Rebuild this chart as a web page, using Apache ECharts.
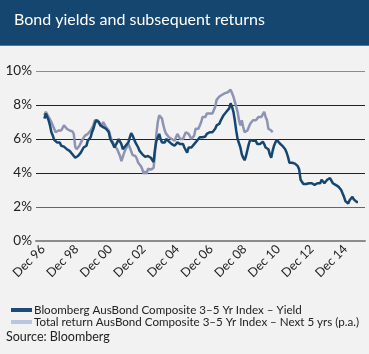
<!DOCTYPE html>
<html>
<head>
<meta charset="utf-8">
<script src="https://cdn.jsdelivr.net/npm/echarts@6/dist/echarts.min.js"></script>
<style>
  html, body { margin: 0; padding: 0; background: #f2f2f2; }
  #chart { width: 369px; height: 354px; }
</style>
</head>
<body>
<div id="chart"></div>
<script>
  // monthly values, first point = Jan 1997
  const yieldVals = [
    7.2, 7.5, 7.4, 7.1, 6.8, 6.4, 6.2, 5.95, 6.0, 5.8, 5.75, 5.8,
    5.6, 5.7, 5.55, 5.6, 5.4, 5.5, 5.3, 5.4, 5.1, 5.2, 4.9, 4.8,
    5.0, 4.9, 5.2, 5.3, 5.5, 5.6, 5.6, 5.9, 5.8, 6.1, 6.4, 6.6,
    6.9, 7.1, 7.2, 7.0, 6.8, 6.9, 6.7, 6.8, 6.6, 6.7, 6.4, 6.0,
    5.9, 5.7, 5.5, 5.6, 5.8, 6.0, 5.9, 5.7, 5.4, 5.5, 5.6, 5.7,
    5.8, 6.1, 6.35, 6.2, 6.0, 5.8, 5.7, 5.5, 5.3, 5.2, 5.1, 5.0,
    4.95, 4.9, 5.0, 5.05, 4.9, 4.8, 4.65, 5.4, 5.9, 6.0, 6.3, 6.0,
    5.8, 5.9, 5.8, 6.0, 5.9, 5.85, 5.8, 5.7, 5.75, 5.6, 5.7, 5.8,
    5.9, 5.7, 5.6, 5.7, 5.5, 5.35, 5.2, 5.5, 5.6, 5.5, 5.55, 5.7,
    5.75, 5.9, 6.0, 6.1, 6.05, 6.1, 6.2, 6.15, 6.3, 6.3, 6.4, 6.5,
    6.4, 6.5, 6.6, 6.8, 6.9, 6.9, 7.1, 7.2, 7.4, 7.5, 7.6, 7.7,
    7.8, 8.1, 7.9, 7.6, 7.1, 6.5, 6.0, 5.9, 5.5, 5.1, 4.9, 4.75,
    5.0, 5.35, 5.7, 5.95, 6.0, 5.9, 5.85, 5.9, 5.7, 5.65, 5.7, 5.8,
    5.85, 5.7, 5.5, 5.45, 5.4, 5.1, 4.9, 5.3, 5.6, 5.8, 5.95, 5.85,
    5.75, 5.7, 5.6, 5.55, 5.4, 5.2, 4.95, 4.6, 4.7, 4.6, 4.5, 4.55,
    4.6, 4.4, 4.2, 3.6, 3.5, 3.35, 3.3, 3.35, 3.3, 3.4, 3.35, 3.4,
    3.4, 3.3, 3.2, 3.4, 3.5, 3.4, 3.6, 3.55, 3.4, 3.5, 3.6, 3.55,
    3.7, 3.6, 3.4, 3.45, 3.3, 3.3, 3.2, 3.2, 3.0, 2.8, 2.6, 2.35,
    2.3, 2.2, 2.4, 2.5, 2.6, 2.45, 2.35, 2.3, 2.3
  ];
  const returnVals = [
    7.4, 7.6, 7.5, 7.3, 7.2, 7.0, 6.8, 6.6, 6.4, 6.5, 6.5, 6.55,
    6.5, 6.6, 6.8, 6.7, 6.6, 6.7, 6.5, 6.5, 6.45, 6.3, 5.55, 5.4,
    5.3, 5.6, 5.7, 5.95, 6.0, 6.2, 6.3, 6.3, 6.4, 6.5, 6.6, 6.8,
    7.1, 7.2, 7.1, 6.9, 6.9, 6.8, 7.0, 6.85, 6.7, 6.7, 6.5, 6.2,
    5.95, 5.8, 5.6, 5.55, 5.4, 5.35, 5.0, 4.7, 4.95, 5.2, 5.4, 5.55,
    5.7, 5.5, 5.4, 5.05, 5.1, 5.0, 4.85, 4.6, 4.5, 4.4, 4.2, 3.95,
    4.1, 3.95, 4.25, 4.3, 4.2, 4.2, 4.3, 5.2, 6.3, 7.0, 7.4, 7.5,
    7.2, 6.8, 6.5, 6.3, 6.2, 6.1, 6.1, 6.0, 6.0, 5.9, 6.1, 6.3,
    6.2, 6.0, 6.1, 6.0, 6.2, 6.4, 6.3, 6.3, 6.2, 6.0, 6.1, 6.2,
    6.6, 6.5, 6.6, 6.8, 7.0, 7.3, 7.4, 7.3, 7.5, 7.6, 7.5, 7.4,
    7.5, 7.6, 7.9, 8.3, 8.4, 8.5, 8.6, 8.6, 8.5, 8.7, 8.7, 8.75,
    8.8, 8.9, 8.7, 8.5, 8.2, 7.9, 7.6, 7.1, 6.8, 7.1, 6.7, 6.4,
    6.3, 6.5, 6.6, 6.9, 7.0, 7.1, 7.0, 7.1, 7.2, 7.3, 7.2, 7.3,
    7.4, 7.6, 7.3, 7.1, 6.6, 6.6, 6.5, 6.4
  ];
  const tickLabels = ['Dec 96', 'Dec 98', 'Dec 00', 'Dec 02', 'Dec 04',
    'Dec 06', 'Dec 08', 'Dec 10', 'Dec 12', 'Dec 14'];
  const yieldName = 'Bloomberg AusBond Composite 3–5 Yr Index – Yield';
  const returnName = 'Total return AusBond Composite 3–5 Yr Index – Next 5 yrs (p.a.)';

  // axis runs Jul 96 .. Feb 16, data begins Jan 97
  const monNames = ['Jan','Feb','Mar','Apr','May','Jun','Jul','Aug','Sep','Oct','Nov','Dec'];
  const months = [];
  for (let y = 1996; y <= 2016; y++) {
    for (let m = 0; m < 12; m++) {
      if (y === 1996 && m < 6) continue;
      if (y === 2016 && m > 1) continue;
      months.push(monNames[m] + ' ' + String(y).slice(2));
    }
  }
  const lead = months.indexOf('Jan 97');
  const pad = arr => new Array(lead).fill(null).concat(arr);

  const chart = echarts.init(document.getElementById('chart'));
  const font = 'Lato, "Noto Sans", sans-serif';
  chart.setOption({
    backgroundColor: '#f2f2f2',
    animation: false,
    textStyle: { fontFamily: font },
    graphic: [
      { type: 'rect', left: 0, top: 0, shape: { width: 369, height: 45 }, style: { fill: '#144670' } },
      { type: 'rect', left: 0, top: 45, shape: { width: 369, height: 1 }, style: { fill: '#4a7aa0' } },
      { type: 'text', left: 14, top: 12, style: { text: 'Bond yields and subsequent returns', fill: '#fff', font: '16px ' + font } },
      { type: 'text', left: 6, top: 330, style: { text: 'Source: Bloomberg', fill: '#222', font: '12.5px ' + font } }
    ],
    grid: { left: 36, right: 4, top: 71, bottom: 113 },
    legend: {
      orient: 'vertical', left: 6, top: 299, itemWidth: 21, itemHeight: 4, itemGap: 0,
      icon: 'rect',
      textStyle: { fontSize: 11.6, color: '#222', fontFamily: font, padding: [0, 0, 0, -3] },
      data: [
        { name: yieldName, itemStyle: { color: '#1b4c78' } },
        { name: returnName, itemStyle: { color: '#b8c7df' } }
      ]
    },
    xAxis: {
      type: 'category',
      data: months,
      boundaryGap: false,
      axisLine: { lineStyle: { color: '#8c8c8c', width: 2 } },
      axisTick: { show: false },
      axisLabel: {
        interval: (i, v) => tickLabels.includes(v),
        rotate: 45, fontSize: 12.5, color: '#222', margin: 6
      }
    },
    yAxis: {
      type: 'value', min: 0, max: 10, interval: 2,
      axisLine: { show: false },
      axisTick: { show: false },
      axisLabel: { formatter: '{value}%', fontSize: 13.5, color: '#222', margin: 4 },
      splitLine: { lineStyle: { color: ['#8c8c8c', '#666', '#222', '#222', '#222', '#8c8c8c'], width: 1 } }
    },
    series: [
      {
        name: returnName, type: 'line', data: pad(returnVals), showSymbol: false,
        lineStyle: { color: '#8c93b3', width: 2.5 }, itemStyle: { color: '#b8c7df' }
      },
      {
        name: yieldName, type: 'line', data: pad(yieldVals), showSymbol: false,
        lineStyle: { color: '#154670', width: 2.5 }, itemStyle: { color: '#1b4c78' }
      }
    ]
  });
</script>
</body>
</html>
